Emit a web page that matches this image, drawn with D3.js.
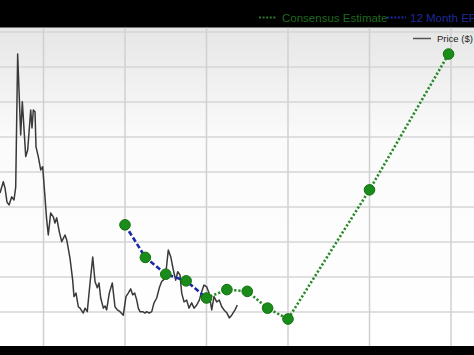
<!DOCTYPE html>
<html>
<head>
<meta charset="utf-8">
<script src="https://cdn.jsdelivr.net/npm/d3@7"></script>
<style>
  html, body { margin: 0; padding: 0; background: #000; }
  svg { display: block; }
</style>
</head>
<body>
<div id="chart"></div>
<script>
// values (x in decimal years, y in price units)
const yearTicks = [2019, 2020, 2021, 2022, 2023, 2024];
const valueTicks = [0, 10, 20, 30, 40, 50, 60, 70, 80, 90];

const priceYears = [2018.466, 2018.507, 2018.528, 2018.552, 2018.577, 2018.610, 2018.638, 2018.659, 2018.683, 2018.720,
  2018.740, 2018.782, 2018.806, 2018.843, 2018.859, 2018.875, 2018.896, 2018.908, 2018.936, 2018.966,
  2018.990, 2019.018, 2019.039, 2019.059, 2019.088, 2019.120, 2019.141, 2019.162, 2019.194, 2019.223,
  2019.264, 2019.285, 2019.325, 2019.358, 2019.374, 2019.399, 2019.427, 2019.448, 2019.488, 2019.509,
  2019.537, 2019.571, 2019.604, 2019.632, 2019.660, 2019.681, 2019.702, 2019.734, 2019.755, 2019.775,
  2019.807, 2019.844, 2019.877, 2019.906, 2019.939, 2019.979, 2020.012, 2020.040, 2020.070, 2020.094,
  2020.119, 2020.144, 2020.163, 2020.184, 2020.217, 2020.245, 2020.266, 2020.298, 2020.328, 2020.356,
  2020.389, 2020.421, 2020.450, 2020.470, 2020.503, 2020.531, 2020.561, 2020.593, 2020.622, 2020.647,
  2020.675, 2020.696, 2020.724, 2020.757, 2020.785, 2020.818, 2020.847, 2020.880, 2020.912, 2020.941,
  2020.969, 2021.002, 2021.031, 2021.064, 2021.092, 2021.125, 2021.157, 2021.187, 2021.215, 2021.248,
  2021.280, 2021.309, 2021.350, 2021.378];
const priceValues = [44.0, 47.2, 45.4, 41.4, 40.6, 42.9, 42.0, 45.7, 83.7, 60.6,
  70.1, 54.4, 56.3, 67.7, 62.6, 67.7, 67.2, 57.2, 54.4, 50.6,
  51.5, 42.9, 36.3, 32.0, 38.3, 37.2, 35.4, 36.9, 32.9, 30.1,
  32.0, 30.6, 25.4, 19.1, 14.4, 15.4, 11.5, 11.1, 9.7, 11.1,
  10.1, 18.3, 25.7, 18.7, 16.9, 18.3, 14.0, 11.1, 11.7, 10.6,
  15.4, 18.3, 11.5, 10.6, 10.1, 9.1, 14.4, 15.4, 16.6, 14.9,
  15.4, 13.4, 11.1, 10.1, 10.1, 9.7, 10.1, 9.7, 10.1, 12.6,
  14.0, 16.9, 18.7, 19.1, 21.5, 27.7, 25.8, 22.0, 19.1, 21.5,
  20.6, 15.4, 12.9, 13.4, 11.1, 12.6, 11.1, 12.0, 13.4, 15.8,
  17.7, 17.2, 15.4, 10.6, 14.4, 12.9, 13.4, 11.5, 10.6, 9.8,
  8.3, 9.1, 10.6, 12.0];

const epsYears = [2020.0, 2020.25, 2020.5, 2020.75, 2021.0];
const epsValues = [34.9, 25.6, 20.8, 18.9, 14.0];

const consensusYears = [2021.0, 2021.25, 2021.5, 2021.75, 2022.0, 2023.0, 2023.97];
const consensusValues = [14.0, 16.4, 15.9, 11.1, 8.0, 44.9, 83.7];

const width = 474, height = 355;
const plot = { top: 27.5, bottom: 346, left: 0, right: 474 };

const x = d3.scaleLinear().domain([2019, 2024]).range([43.5, 451]);
const y = d3.scaleLinear().domain([0, 90]).range([347, 32]);

const svg = d3.select("#chart").append("svg")
  .attr("width", width).attr("height", height);

svg.append("rect").attr("width", width).attr("height", height).attr("fill", "#000");

const defs = svg.append("defs");
const grad = defs.append("linearGradient").attr("id", "bg").attr("x1", 0).attr("y1", 0).attr("x2", 0).attr("y2", 1);
grad.append("stop").attr("offset", "0%").attr("stop-color", "#e6e6e6");
grad.append("stop").attr("offset", "35%").attr("stop-color", "#fbfbfb");
grad.append("stop").attr("offset", "100%").attr("stop-color", "#ffffff");

defs.append("clipPath").attr("id", "clip").append("rect")
  .attr("x", plot.left).attr("y", plot.top)
  .attr("width", plot.right - plot.left).attr("height", plot.bottom - plot.top);

svg.append("rect")
  .attr("x", plot.left).attr("y", plot.top)
  .attr("width", plot.right - plot.left).attr("height", plot.bottom - plot.top)
  .attr("fill", "url(#bg)");

const g = svg.append("g").attr("clip-path", "url(#clip)");

// grid
g.selectAll(".hgrid").data(valueTicks).enter().append("line")
  .attr("x1", plot.left).attr("x2", plot.right)
  .attr("y1", d => y(d)).attr("y2", d => y(d))
  .attr("stroke", "#d6d6d6").attr("stroke-width", 1.5);

g.selectAll(".vgrid").data(yearTicks).enter().append("line")
  .attr("x1", d => x(d)).attr("x2", d => x(d))
  .attr("y1", plot.top).attr("y2", plot.bottom)
  .attr("stroke", "#d0d0d0").attr("stroke-width", 1.5);

// price
const price = priceYears.map((d, i) => [d, priceValues[i]]);
const line = d3.line().x(d => x(d[0])).y(d => y(d[1]));

g.append("path").datum(price)
  .attr("d", line)
  .attr("fill", "none")
  .attr("stroke", "#3a3a3a")
  .attr("stroke-width", 1.5)
  .attr("stroke-linejoin", "round");

// 12 month EPS
const eps = epsYears.map((d, i) => [d, epsValues[i]]);
g.append("path").datum(eps)
  .attr("d", line)
  .attr("fill", "none")
  .attr("stroke", "#1c2aa6")
  .attr("stroke-width", 2.6)
  .attr("stroke-dasharray", "5,2.5");

// consensus estimate
const cons = consensusYears.map((d, i) => [d, consensusValues[i]]);
g.append("path").datum(cons)
  .attr("d", line)
  .attr("fill", "none")
  .attr("stroke", "#2a8a2a")
  .attr("stroke-width", 2.6)
  .attr("stroke-dasharray", "2.2,2");

g.selectAll(".dot").data(eps.concat(cons.slice(1))).enter().append("circle")
  .attr("cx", d => x(d[0]))
  .attr("cy", d => y(d[1]))
  .attr("r", 5.3)
  .attr("fill", "#1a8c1a")
  .attr("stroke", "#11700f")
  .attr("stroke-width", 1);

// price legend
svg.append("line")
  .attr("x1", 413).attr("x2", 431).attr("y1", 38.5).attr("y2", 38.5)
  .attr("stroke", "#555").attr("stroke-width", 1.5);
svg.append("text")
  .attr("x", 437).attr("y", 42)
  .attr("font-family", "Liberation Sans, Arial, sans-serif")
  .attr("font-size", "9.5px")
  .attr("fill", "#222")
  .text("Price ($)");

// top legend in the black band (the blue entry runs off the right edge, as in the original crop)
svg.append("line")
  .attr("x1", 259).attr("x2", 277).attr("y1", 17.5).attr("y2", 17.5)
  .attr("stroke", "#2a7a2a").attr("stroke-width", 2).attr("stroke-dasharray", "2,1.6");
svg.append("text")
  .attr("x", 282).attr("y", 22)
  .attr("font-family", "Liberation Sans, Arial, sans-serif")
  .attr("font-size", "11.5px")
  .attr("fill", "#1f6a1f")
  .text("Consensus Estimate");
svg.append("line")
  .attr("x1", 387).attr("x2", 406).attr("y1", 17.5).attr("y2", 17.5)
  .attr("stroke", "#1c2aa6").attr("stroke-width", 2).attr("stroke-dasharray", "2,1.6");
svg.append("text")
  .attr("x", 410).attr("y", 22)
  .attr("font-family", "Liberation Sans, Arial, sans-serif")
  .attr("font-size", "11.5px")
  .attr("fill", "#1f2a9a")
  .text("12 Month EPS");
</script>
</body>
</html>
